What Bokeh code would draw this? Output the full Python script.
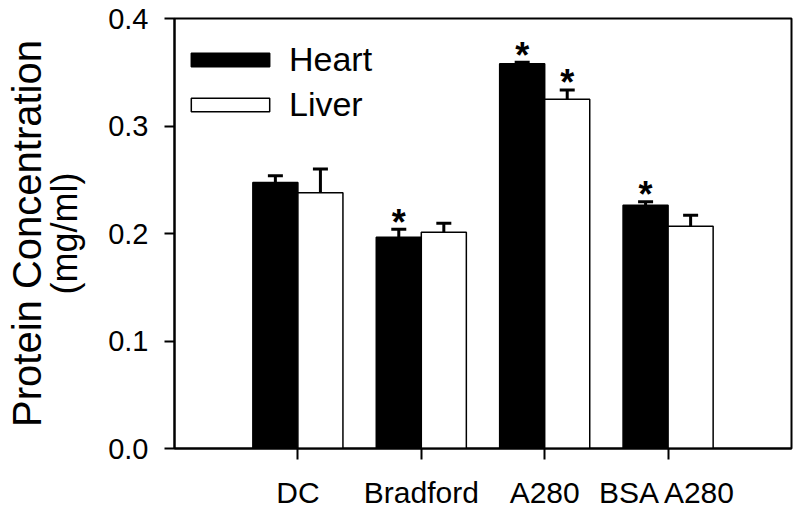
from bokeh.plotting import figure
from bokeh.models import (ColumnDataSource, Range1d, FixedTicker, Whisker, TeeHead,
                          Legend, LegendItem, LinearAxis)
from bokeh.core.properties import value
from bokeh.embed import file_html
from bokeh.resources import INLINE

# ---- data ----
categories = ["DC", "Bradford", "A280", "BSA A280"]
heart = [0.2475, 0.1965, 0.3580, 0.2262]
heart_err = [0.0062, 0.0075, 0.0012, 0.0033]
liver = [0.2378, 0.2011, 0.3248, 0.2067]
liver_err = [0.0222, 0.0084, 0.0087, 0.0102]
heart_sig = [False, True, True, True]
liver_sig = [False, False, True, False]
y_ticks = [0.0, 0.1, 0.2, 0.3, 0.4]
y_tick_labels = ["0.0", "0.1", "0.2", "0.3", "0.4"]
y_label_1 = "Protein Concentration"
y_label_2 = "(mg/ml)"

FONT = "Liberation Sans"
BAR_W = 0.365
pos = [i + 1 for i in range(len(categories))]

heart_x = [p_ - BAR_W / 2 for p_ in pos]
liver_x = [p_ + BAR_W / 2 for p_ in pos]

src_h = ColumnDataSource(dict(x=heart_x, top=heart,
                              upper=[t + e for t, e in zip(heart, heart_err)]))
src_l = ColumnDataSource(dict(x=liver_x, top=liver,
                              upper=[t + e for t, e in zip(liver, liver_err)]))

p = figure(width=800, height=511, output_backend="svg", toolbar_location=None,
           x_range=Range1d(0, 5), y_range=Range1d(0, 0.4),
           min_border_left=174, min_border_right=9, min_border_top=18,
           min_border_bottom=62)
p.background_fill_color = "white"
p.border_fill_color = "white"
p.outline_line_color = "black"
p.outline_line_width = 2
p.xgrid.visible = False
p.ygrid.visible = False

rh = p.vbar(x="x", top="top", width=BAR_W, bottom=0, source=src_h,
            fill_color="black", line_color="black", line_width=1.5)
rl = p.vbar(x="x", top="top", width=BAR_W, bottom=0, source=src_l,
            fill_color="white", line_color="black", line_width=1.5)

for src in (src_h, src_l):
    w = Whisker(source=src, base="x", lower="top", upper="upper",
                line_color="black", line_width=3,
                upper_head=TeeHead(size=15, line_width=3, line_color="black"),
                lower_head=None)
    p.add_layout(w)

# significance asterisks
sx = [x for x, s in zip(heart_x, heart_sig) if s] + [x for x, s in zip(liver_x, liver_sig) if s]
sy = ([t + e for t, e, s in zip(heart, heart_err, heart_sig) if s] +
      [t + e for t, e, s in zip(liver, liver_err, liver_sig) if s])
p.text(x=sx, y=sy, text=["*"] * len(sx), text_font=value(FONT),
       text_font_size="36px", text_font_style="bold", text_align="center",
       text_baseline="alphabetic", y_offset=-7, text_color="black")

# axes
p.xaxis.ticker = FixedTicker(ticks=pos)
p.xaxis.major_label_overrides = {p_: c for p_, c in zip(pos, categories)}
p.yaxis.ticker = FixedTicker(ticks=y_ticks)
p.yaxis.major_label_overrides = {t: s for t, s in zip(y_ticks, y_tick_labels)}
for ax in (p.xaxis[0], p.yaxis[0]):
    ax.axis_line_width = 2
    ax.axis_line_color = "black"
    ax.major_tick_line_width = 2
    ax.major_tick_line_color = "black"
    ax.major_tick_in = 0
    ax.minor_tick_line_color = None
    ax.major_label_text_font = FONT
    ax.major_label_text_color = "black"
p.xaxis.major_label_text_font_size = "30px"
p.yaxis.major_label_text_font_size = "29px"
p.xaxis.major_tick_out = 11
p.yaxis.major_tick_out = 10
p.xaxis.major_label_standoff = 16
p.yaxis.major_label_standoff = 16

# y axis title: second line on main axis, first line on an outer bare axis
p.yaxis.axis_label = y_label_2
p.yaxis.axis_label_text_font = FONT
p.yaxis.axis_label_text_font_size = "36px"
p.yaxis.axis_label_text_font_style = "normal"
p.yaxis.axis_label_text_color = "black"
p.yaxis.axis_label_standoff = 20

outer = LinearAxis(ticker=FixedTicker(ticks=[]), axis_line_color=None,
                   major_tick_line_color=None, minor_tick_line_color=None,
                   major_tick_in=0, major_tick_out=0, minor_tick_in=0, minor_tick_out=0,
                   major_label_text_font_size="0px", major_label_standoff=0,
                   axis_label=y_label_1, axis_label_text_font=FONT,
                   axis_label_text_font_size="40px", axis_label_text_font_style="normal",
                   axis_label_text_color="black", axis_label_standoff=-7)
p.add_layout(outer, "left")

legend = Legend(items=[LegendItem(label="Heart", renderers=[rh]),
                       LegendItem(label="Liver", renderers=[rl])],
                location=(7, 324), glyph_width=98, glyph_height=17,
                label_standoff=10, spacing=6, padding=0, margin=0,
                label_text_font=FONT, label_text_font_size="34px",
                label_text_color="black",
                border_line_alpha=0, background_fill_alpha=0)
p.add_layout(legend)

open("out.html", "w").write(file_html(p, INLINE))
